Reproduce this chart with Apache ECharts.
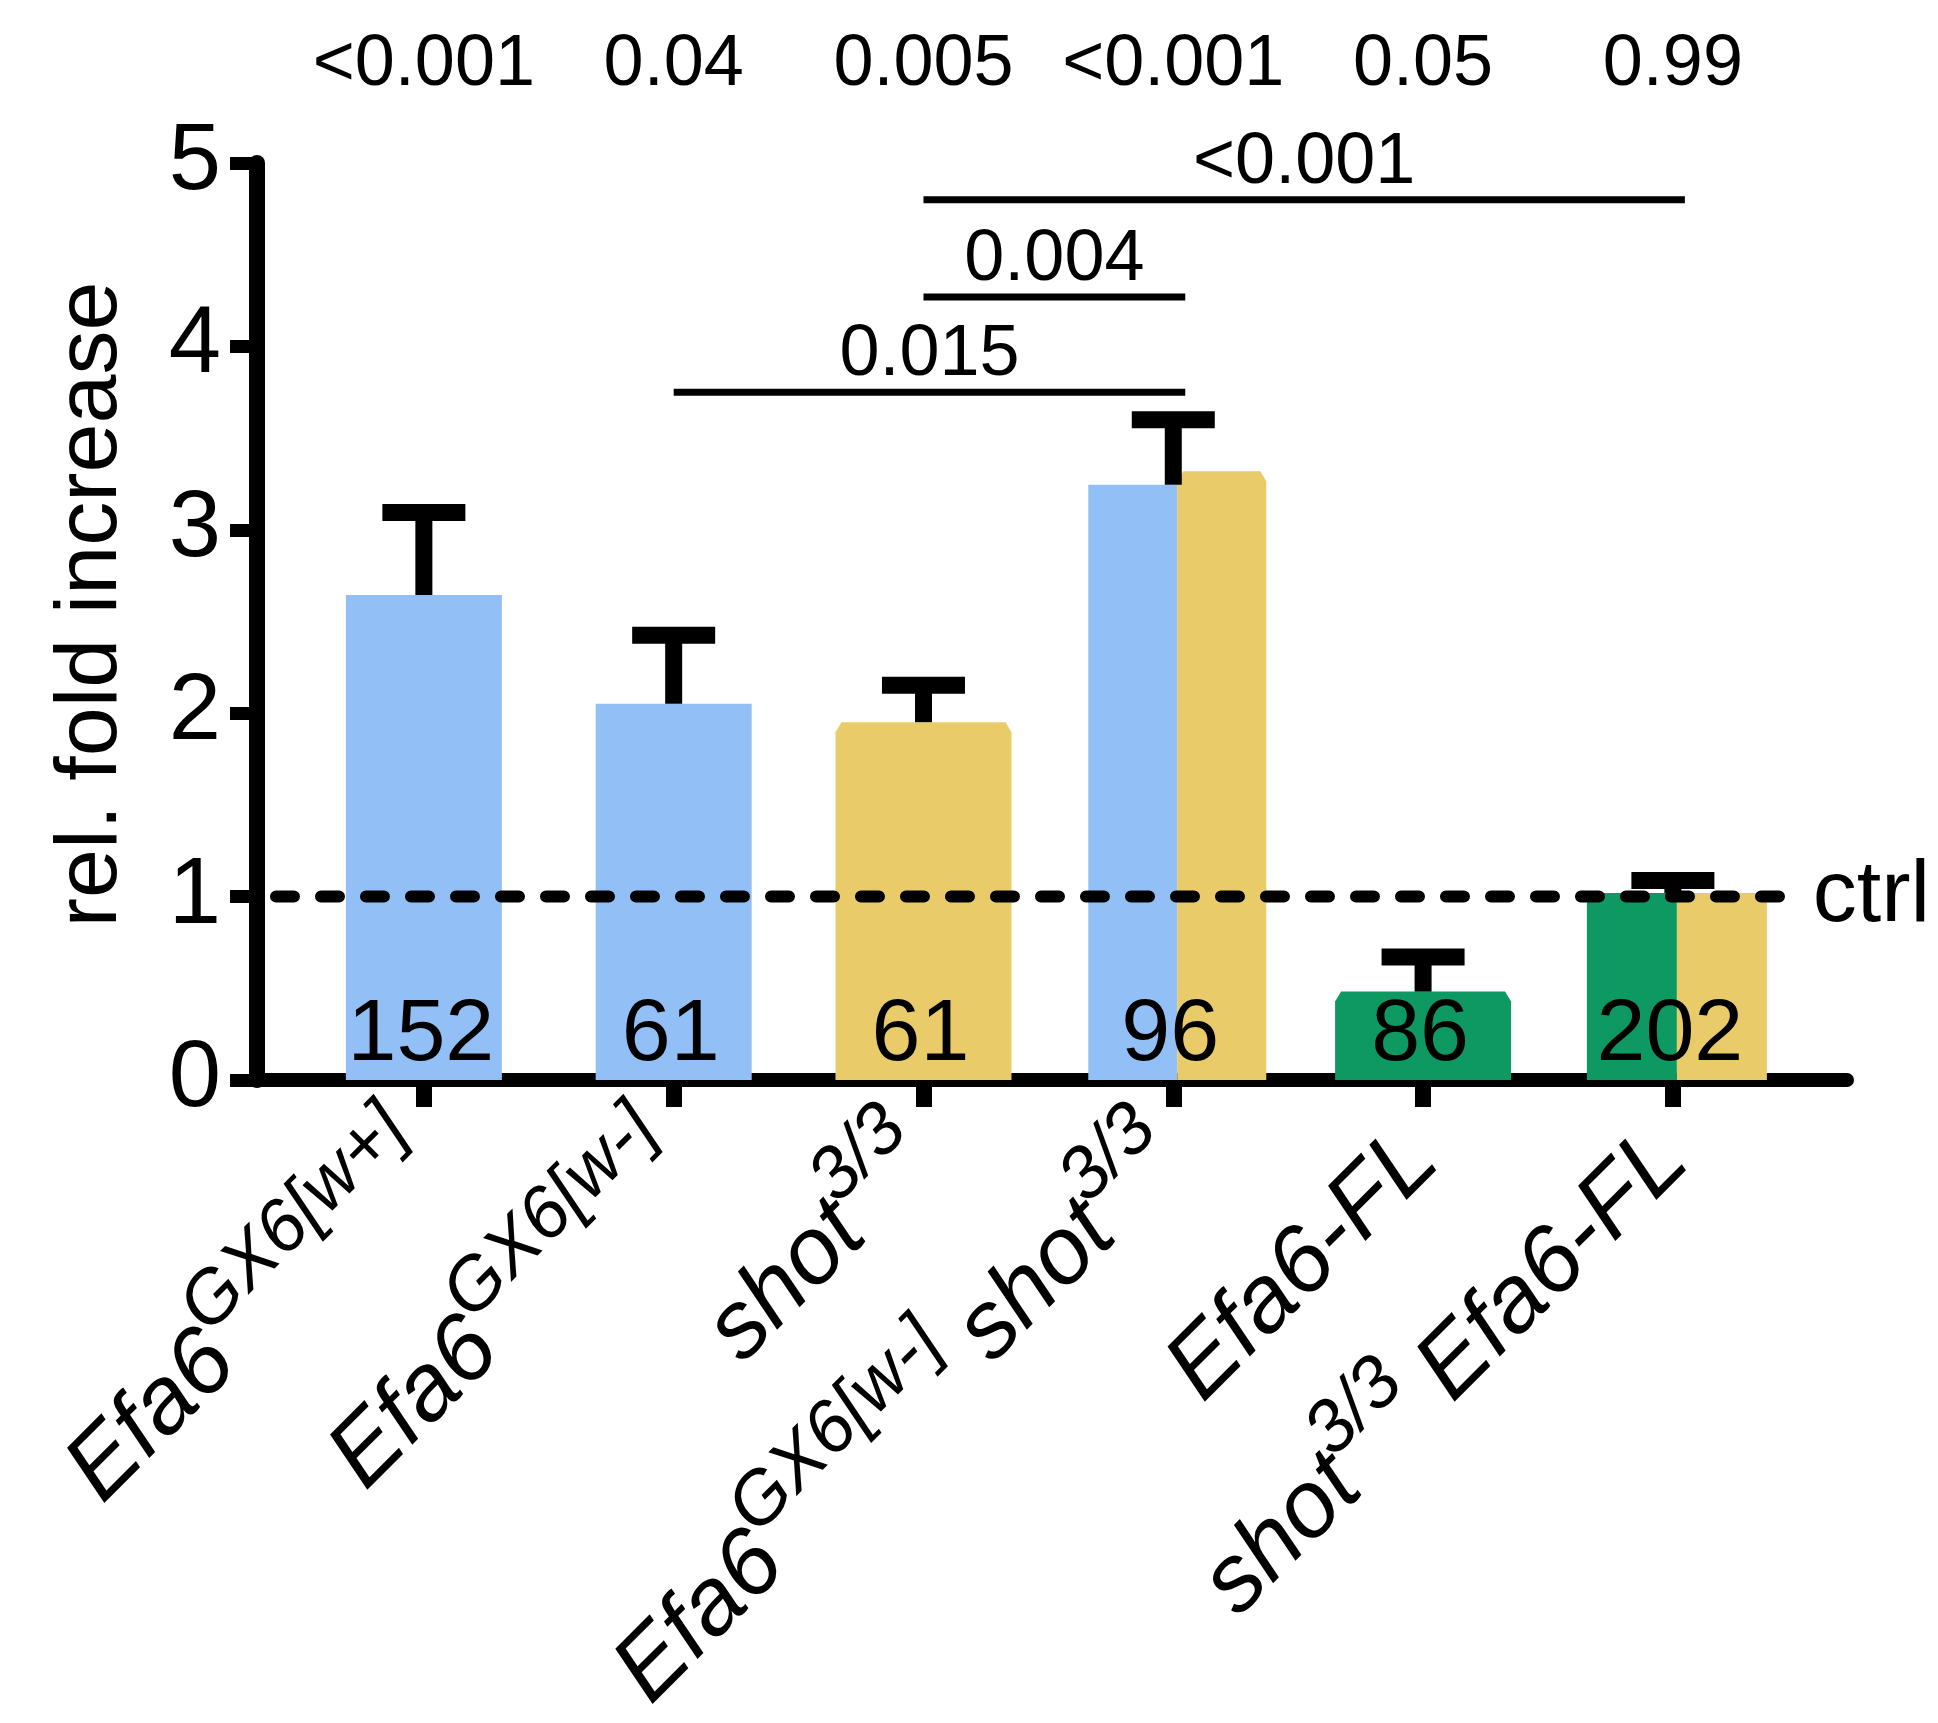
<!DOCTYPE html>
<html>
<head>
<meta charset="utf-8">
<script src="https://cdn.jsdelivr.net/npm/echarts@6/dist/echarts.min.js"></script>
<style>
  html, body { margin: 0; padding: 0; background: #fff; }
  #chart { width: 1938px; height: 1723px; }
</style>
</head>
<body>
<div id="chart"></div>
<script>
// Genotypes on the x axis ({m|...} regular text, {s|...} superscript)
const genotypes = [
  '{m|Efa6}{s|GX6[w+]}',
  '{m|Efa6}{s|GX6[w-]}',
  '{m|shot}{s|3/3}',
  '{m|Efa6}{s|GX6[w-] }{m|shot}{s|3/3}',
  '{m|Efa6-FL}',
  '{m|shot}{s|3/3 }{m|Efa6-FL}'
];
const categoryIndex = [0, 1, 2, 3, 4, 5];

// Mean relative fold increase (left and right half of each bar) and mean + SEM
const foldLeft  = [2.645, 2.051, 1.951, 3.246, 0.482, 1.019];
const foldRight = [2.645, 2.051, 1.951, 3.319, 0.482, 1.019];
const foldUpper = [3.095, 2.425, 2.152, 3.600, 0.671, 1.088];

// Number of samples per genotype
const sampleN = ['152', '61', '61', '96', '86', '202'];

// P-values versus control
const pVsCtrl = ['<0.001', '0.04', '0.005', '<0.001', '0.05', '0.99'];

// Pairwise comparisons (from category, to category, bracket height, p-value)
const compFrom  = [1, 2, 2];
const compTo    = [3, 3, 5];
const compLevel = [3.75, 4.27, 4.80];
const compP     = ['0.015', '0.004', '<0.001'];

// Control level
const ctrlLevel = 1;
const ctrlLabel = 'ctrl';

// Y axis ticks
const yMin = 0, yMax = 5, yStep = 1;

// ---- styling ----
const FONT = "'Liberation Sans', Arial, Helvetica, sans-serif";
const BLUE = '#93bff7', YELLOW = '#eacb69', GREEN = '#0e9862';
const leftColor  = [BLUE, BLUE, YELLOW, BLUE, GREEN, GREEN];
const rightColor = [BLUE, BLUE, YELLOW, YELLOW, GREEN, YELLOW];
const barWidthPx = [156, 156, 176, 178, 176, 180];
const splitShiftPx = 4;
const chamferW = 6, chamferH = 10;
const ctrlSpan = [-0.592, 5.512];
const xRange = [-0.668, 5.697];

const chart = echarts.init(document.getElementById('chart'), null, { renderer: 'canvas' });

function barPolygon(xa, xb, yBase, yTop, color, cutLeft, cutRight) {
  const pts = [[xa, yBase]];
  if (cutLeft) { pts.push([xa, yTop + chamferH], [xa + chamferW, yTop]); }
  else { pts.push([xa, yTop]); }
  if (cutRight) { pts.push([xb - chamferW, yTop], [xb, yTop + chamferH]); }
  else { pts.push([xb, yTop]); }
  pts.push([xb, yBase]);
  return { type: 'polygon', shape: { points: pts }, style: { fill: color } };
}

function renderBar(params, api) {
  const i = api.value(0);
  const base = api.coord([i, 0]);
  const yL = api.coord([i, api.value(1)])[1];
  const yR = api.coord([i, api.value(2)])[1];
  const w = barWidthPx[i];
  const split = leftColor[i] !== rightColor[i];
  const cx = base[0] + (split ? splitShiftPx : 0);
  const x0 = cx - w / 2, x1 = cx + w / 2;
  const children = [];
  if (split) {
    const lc = leftColor[i], rc = rightColor[i];
    children.push(barPolygon(x0, cx, base[1], yL, lc, lc !== BLUE, lc !== BLUE && yR > yL + 1));
    children.push(barPolygon(cx, x1, base[1], yR, rc, rc !== BLUE && yL > yR + 1, rc !== BLUE));
  } else {
    const c = leftColor[i];
    children.push(barPolygon(x0, x1, base[1], yL, c, c !== BLUE, c !== BLUE));
  }
  children.push({
    type: 'text',
    style: {
      text: sampleN[i], x: base[0] - 3, y: base[1] - 44,
      fill: '#000', fontSize: 88, fontFamily: FONT,
      align: 'center', verticalAlign: 'middle'
    }
  });
  return { type: 'group', children };
}

function renderErr(params, api) {
  const i = api.value(0);
  const pMean = api.coord([i, api.value(1)]);
  const pTop = api.coord([i, api.value(2)]);
  const stemW = 17, capW = 83, capH = 17;
  return {
    type: 'group',
    children: [
      { type: 'rect', shape: { x: pTop[0] - stemW / 2, y: pTop[1], width: stemW, height: pMean[1] - pTop[1] }, style: { fill: '#000' } },
      { type: 'rect', shape: { x: pTop[0] - capW / 2, y: pTop[1] - capH / 2, width: capW, height: capH }, style: { fill: '#000' } }
    ]
  };
}

function renderBracket(params, api) {
  const a = api.coord([api.value(0), api.value(2)]);
  const b = api.coord([api.value(1), api.value(2)]);
  const k = api.value(3);
  const thick = 7, padRight = 12;
  const xEnd = b[0] + padRight;
  return {
    type: 'group',
    children: [
      { type: 'rect', shape: { x: a[0], y: a[1] - thick / 2, width: xEnd - a[0], height: thick }, style: { fill: '#000' } },
      { type: 'text', style: {
          text: compP[k], x: (a[0] + xEnd) / 2, y: a[1] - 37,
          fill: '#000', fontSize: 72, fontFamily: FONT,
          align: 'center', verticalAlign: 'middle' } }
    ]
  };
}

const option = {
  animation: false,
  backgroundColor: '#fff',
  textStyle: { fontFamily: FONT, color: '#000' },
  grid: { left: 257, right: 91, top: 163, bottom: 643, containLabel: false, outerBoundsMode: 'none' },
  xAxis: [
    {
      type: 'value', min: xRange[0], max: xRange[1], position: 'bottom',
      splitLine: { show: false },
      axisLine: { show: true, onZero: false, lineStyle: { color: '#000', width: 14 } },
      axisTick: { show: true, customValues: categoryIndex, length: 27, lineStyle: { color: '#000', width: 16 } },
      axisLabel: {
        customValues: categoryIndex, rotate: 45, margin: 66, hideOverlap: false,
        formatter: v => genotypes[Math.round(v)],
        rich: {
          m: { fontSize: 95, fontStyle: 'italic', fontFamily: FONT, color: '#000', lineHeight: 153, verticalAlign: 'middle' },
          s: { fontSize: 74, fontStyle: 'italic', fontFamily: FONT, color: '#000', lineHeight: 74, verticalAlign: 'top' }
        }
      }
    },
    {
      type: 'value', min: xRange[0], max: xRange[1], position: 'top',
      splitLine: { show: false },
      axisLine: { show: false },
      axisTick: { show: false },
      axisLabel: {
        customValues: categoryIndex, margin: 62, hideOverlap: false,
        formatter: v => pVsCtrl[Math.round(v)],
        fontSize: 72, fontFamily: FONT, color: '#000'
      }
    }
  ],
  yAxis: {
    type: 'value', min: yMin, max: yMax, interval: yStep,
    splitLine: { show: false },
    axisLine: { show: true, onZero: false, lineStyle: { color: '#000', width: 16 } },
    axisTick: { show: true, length: 27, lineStyle: { color: '#000', width: 13 } },
    axisLabel: { fontSize: 94, margin: 36, color: '#000', fontFamily: FONT },
    name: 'rel. fold increase', nameLocation: 'middle', nameGap: 121, nameRotate: 90,
    nameTextStyle: { fontSize: 88, color: '#000', fontFamily: FONT, padding: [0, 0, 0, 34] }
  },
  series: [
    {
      type: 'custom', name: 'fold increase', xAxisIndex: 0, clip: false,
      renderItem: renderBar,
      data: categoryIndex.map(i => [i, foldLeft[i], foldRight[i]])
    },
    {
      type: 'line', name: ctrlLabel, xAxisIndex: 0,
      symbol: 'circle', symbolSize: 0, showSymbol: true,
      lineStyle: { color: '#000', width: 12, type: [18, 27], cap: 'round' },
      data: [
        [ctrlSpan[0], ctrlLevel],
        { value: [ctrlSpan[1], ctrlLevel],
          label: { show: true, position: 'right', distance: 12, formatter: ctrlLabel,
                   fontSize: 88, color: '#000', fontFamily: FONT } }
      ]
    },
    {
      type: 'custom', name: 'SEM', xAxisIndex: 0, clip: false,
      renderItem: renderErr,
      data: categoryIndex.map(i => [i, foldLeft[i], foldUpper[i]])
    },
    {
      type: 'custom', name: 'comparisons', xAxisIndex: 0, clip: false,
      renderItem: renderBracket,
      data: compFrom.map((f, k) => [f, compTo[k], compLevel[k], k])
    }
  ]
};

chart.setOption(option);
</script>
</body>
</html>
